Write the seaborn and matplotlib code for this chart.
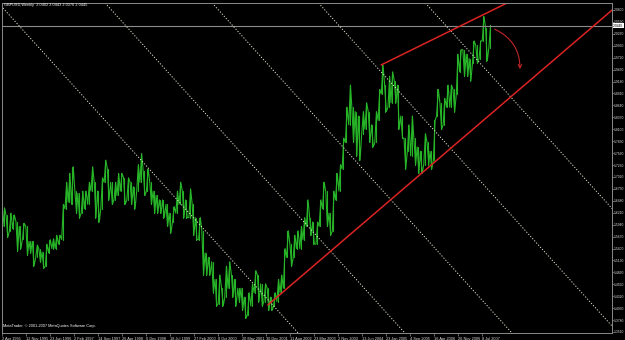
import numpy as np
import pandas as pd
import matplotlib
matplotlib.use("Agg")
import matplotlib.pyplot as plt
import seaborn as sns

# ---------------- data ----------------
title_text = "GBPUSD,Weekly  2.0402 2.0443 2.0376 2.0445"
copyright_text = "MetaTrader, \u00a9 2001-2007 MetaQuotes Software Corp."

first_month = "1995-04"
monthly_high = [
    # 1995 Apr-Dec
    1.6320, 1.6150, 1.6200, 1.6160, 1.6010, 1.5900, 1.5970, 1.5900, 1.5560,
    # 1996
    1.5560, 1.5480, 1.5400, 1.5320, 1.5500, 1.5600, 1.5620, 1.5700, 1.5700, 1.6400, 1.6900, 1.7100,
    # 1997
    1.7250, 1.6700, 1.6650, 1.6700, 1.6700, 1.6900, 1.7250, 1.6900, 1.6700, 1.7000, 1.7400, 1.7200,
    # 1998
    1.6900, 1.6900, 1.7100, 1.7100, 1.7000, 1.7000, 1.6900, 1.6800, 1.7300, 1.7550, 1.7150, 1.7200,
    # 1999
    1.6900, 1.6700, 1.6600, 1.6500, 1.6500, 1.6400, 1.6200, 1.6350, 1.6700, 1.6900, 1.6700, 1.6500,
    # 2000
    1.6750, 1.6400, 1.6100, 1.6100, 1.5800, 1.5300, 1.5200, 1.5100, 1.4700, 1.4800, 1.4500, 1.5000,
    # 2001
    1.5100, 1.4800, 1.4700, 1.4500, 1.4500, 1.4300, 1.4400, 1.4600, 1.4900, 1.4800, 1.4600, 1.4600,
    # 2002
    1.4500, 1.4300, 1.4400, 1.4700, 1.4800, 1.5400, 1.5800, 1.5500, 1.5700, 1.5800, 1.5900, 1.6100,
    # 2003
    1.6500, 1.6100, 1.6000, 1.6000, 1.6500, 1.6900, 1.6700, 1.6200, 1.6700, 1.7100, 1.7300, 1.7900,
    # 2004
    1.8600, 1.9100, 1.8600, 1.8500, 1.8400, 1.8500, 1.8700, 1.8500, 1.8200, 1.8500, 1.9000, 1.9550,
    # 2005
    1.9100, 1.9300, 1.9400, 1.9200, 1.9100, 1.8400, 1.7900, 1.8200, 1.8400, 1.7900, 1.7700, 1.7600,
    # 2006
    1.8000, 1.7800, 1.7600, 1.8300, 1.9000, 1.8700, 1.8800, 1.9100, 1.9100, 1.9000, 1.9800, 1.9900,
    # 2007 Jan-Sep
    1.9900, 1.9800, 1.9700, 2.0100, 2.0000, 2.0100, 2.0654, 2.0400, 2.0450,
]
monthly_low = [
    1.5900, 1.5650, 1.5800, 1.5850, 1.5340, 1.5400, 1.5620, 1.5250, 1.5300,
    1.5000, 1.5200, 1.5100, 1.4950, 1.5000, 1.5300, 1.5400, 1.5400, 1.5500, 1.5600, 1.6300, 1.6450,
    1.6400, 1.6200, 1.6100, 1.6200, 1.6300, 1.6400, 1.6700, 1.6100, 1.6000, 1.6300, 1.6900, 1.6500,
    1.6400, 1.6500, 1.6600, 1.6700, 1.6400, 1.6500, 1.6400, 1.6300, 1.6700, 1.6900, 1.6600, 1.6700,
    1.6400, 1.6200, 1.6200, 1.6200, 1.6100, 1.5900, 1.5750, 1.6000, 1.6200, 1.6400, 1.6100, 1.6100,
    1.6100, 1.5700, 1.5600, 1.5600, 1.4800, 1.4800, 1.4800, 1.4400, 1.4100, 1.4150, 1.4100, 1.4300,
    1.4500, 1.4300, 1.4100, 1.4200, 1.4000, 1.3820, 1.3900, 1.4100, 1.4400, 1.4200, 1.4100, 1.4200,
    1.4000, 1.4000, 1.4100, 1.4200, 1.4400, 1.4500, 1.5200, 1.5000, 1.5200, 1.5400, 1.5400, 1.5600,
    1.5900, 1.5700, 1.5500, 1.5500, 1.5900, 1.6300, 1.5900, 1.5700, 1.5800, 1.6500, 1.6700, 1.7200,
    1.7800, 1.8200, 1.7800, 1.7500, 1.7400, 1.8000, 1.8100, 1.7800, 1.7700, 1.7800, 1.8300, 1.8900,
    1.8500, 1.8600, 1.8700, 1.8700, 1.8100, 1.7900, 1.7200, 1.7600, 1.7500, 1.7300, 1.7100, 1.7100,
    1.7300, 1.7300, 1.7200, 1.7400, 1.8400, 1.8100, 1.8200, 1.8600, 1.8600, 1.8500, 1.8900, 1.9400,
    1.9300, 1.9300, 1.9200, 1.9600, 1.9600, 1.9700, 2.0100, 1.9650, 1.9950,
]
current_price = 2.0445

x_tick_dates = ["1995-04-02", "1995-11-12", "1996-06-23", "1997-02-02", "1997-09-14",
                "1998-04-26", "1998-12-06", "1999-07-18", "2000-02-27", "2000-10-08",
                "2001-05-20", "2001-12-30", "2002-08-11", "2003-03-23", "2003-11-02",
                "2004-06-13", "2005-01-23", "2005-09-04", "2006-04-16", "2006-11-26",
                "2007-07-08"]
x_tick_labels = ["2 Apr 1995", "12 Nov 1995", "23 Jun 1996", "2 Feb 1997", "14 Sep 1997",
                 "26 Apr 1998", "6 Dec 1998", "18 Jul 1999", "27 Feb 2000", "8 Oct 2000",
                 "20 May 2001", "30 Dec 2001", "11 Aug 2002", "23 Mar 2003", "2 Nov 2003",
                 "13 Jun 2004", "23 Jan 2005", "4 Sep 2005", "16 Apr 2006", "26 Nov 2006",
                 "8 Jul 2007"]
price_ticks = [1.3510, 1.3780, 1.4050, 1.4320, 1.4590, 1.4860, 1.5130, 1.5400, 1.5670,
               1.5940, 1.6210, 1.6480, 1.6750, 1.7020, 1.7290, 1.7560, 1.7830, 1.8100,
               1.8370, 1.8640, 1.8910, 1.9180, 1.9450, 1.9720, 1.9990, 2.0260, 2.0530,
               2.0800]

# trend lines (anchor points) and the hand-drawn arrow
upper_line_dates = ["2004-12-05", "2007-07-22"]
upper_line_prices = [1.9555, 2.0700]
lower_line_dates = ["2002-01-13", "2008-02-24"]
lower_line_prices = [1.4121, 1.8762]
arrow_dates = ["2007-10-07", "2008-06-22"]
arrow_prices = [2.0392, 1.9396]

# dotted diagonal lines: start dates at the top edge and common slope (price per day)
diag_dates = ["1995-02-24", "1997-11-16", "2000-08-11", "2003-05-01", "2006-01-22"]
diag_slope_per_day = -0.000267

# ---------------- layout ----------------
W, H = 625, 340
x_left = pd.Timestamp("1995-03-30")
x_right = x_left + pd.Timedelta(days=5693)
y_low, y_high = 1.3487, 2.0958
green = "#27b327"

sns.set_theme(style="ticks", rc={
    "figure.facecolor": "black", "axes.facecolor": "black",
    "axes.edgecolor": "#8a8a8a", "axes.linewidth": 0.7,
    "xtick.color": "#8a8a8a", "ytick.color": "#8a8a8a",
    "text.color": "white",
})
plt.rcParams["font.family"] = ["Liberation Sans", "DejaVu Sans"]

fig = plt.figure(figsize=(W / 100, H / 100), dpi=100)
ax = fig.add_axes([2 / W, 7 / H, 610 / W, 330 / H])

highs = np.array(monthly_high)
lows = np.array(monthly_low)
months = pd.date_range(first_month, periods=len(highs), freq="MS") + pd.Timedelta(days=14)

# vertical high-low bar for each month
bars = pd.DataFrame({
    "date": np.concatenate([months, months]),
    "price": np.concatenate([highs, lows]),
    "bar": np.concatenate([np.arange(len(months)), np.arange(len(months))]),
})
sns.lineplot(data=bars, x="date", y="price", units="bar", estimator=None,
             color=green, lw=0.8, ax=ax, legend=False)

# jagged path through the extremes of each month (low->high when rising, high->low when falling)
mid = (highs + lows) / 2
rising = np.concatenate([[True], mid[1:] >= mid[:-1]])
path_dates, path_prices = [], []
for t, h, l, up in zip(months, highs, lows, rising):
    first, second = (l, h) if up else (h, l)
    path_dates += [t - pd.Timedelta(days=8), t + pd.Timedelta(days=8)]
    path_prices += [first, second]
path = pd.DataFrame({"date": path_dates, "price": path_prices})
sns.lineplot(data=path, x="date", y="price", sort=False, estimator=None,
             color=green, lw=0.8, ax=ax, legend=False)

# current price line
ax.axhline(current_price, color="#8c8c8c", lw=0.8)

# dotted diagonal lines
span = pd.Timedelta(days=4000)
for d in diag_dates:
    d0 = pd.Timestamp(d)
    ax.plot([d0, d0 + span], [y_high, y_high + diag_slope_per_day * span.days],
            color="#e6e6d0", lw=0.7, ls=(0, (1.2, 1.8)))

# red trend lines, extended to the right edge
for dates, prices in [(upper_line_dates, upper_line_prices), (lower_line_dates, lower_line_prices)]:
    t0, t1 = pd.Timestamp(dates[0]), pd.Timestamp(dates[1])
    slope = (prices[1] - prices[0]) / (t1 - t0).days
    end_price = prices[0] + slope * (x_right - t0).days
    ax.plot([t0, x_right], [prices[0], end_price], color="#dc2323", lw=1.1)

# hand-drawn arrow
ax.annotate("", xy=(pd.Timestamp(arrow_dates[1]), arrow_prices[1]),
            xytext=(pd.Timestamp(arrow_dates[0]), arrow_prices[0]),
            arrowprops=dict(arrowstyle="->", color="#c02525", lw=0.8,
                            connectionstyle="arc3,rad=-0.35",
                            mutation_scale=6))

ax.set_xlim(x_left, x_right)
ax.set_ylim(y_low, y_high)
ax.set_xlabel("")
ax.set_ylabel("")

ax.set_xticks([pd.Timestamp(d) for d in x_tick_dates])
ax.set_xticklabels(x_tick_labels, ha="left", fontsize=2.8, color="#dcdcdc")
ax.tick_params(axis="x", direction="out", length=2.5, width=0.5, pad=0.6)

ax.yaxis.tick_right()
ax.set_yticks(price_ticks)
ax.set_yticklabels([f"{p:.4f}" for p in price_ticks], fontsize=2.4, color="#dcdcdc")
ax.tick_params(axis="y", direction="out", length=1.2, width=0.5, pad=0.3)

for s in ax.spines.values():
    s.set_visible(True)
    s.set_color("#8a8a8a")

# current price label
ax.text(1.002, current_price, f"{current_price:.4f}", transform=ax.get_yaxis_transform(),
        fontsize=2.4, color="black", va="center", ha="left",
        bbox=dict(boxstyle="square,pad=0.1", fc="white", ec="none"))

fig.text(4 / W, 1 - 5 / H, title_text, fontsize=2.8, color="white", va="center", ha="left")
fig.text(3 / W, 1 - 326 / H, copyright_text, fontsize=2.8, color="white", va="center", ha="left")

fig.savefig("out.png", dpi=100, facecolor="black")
